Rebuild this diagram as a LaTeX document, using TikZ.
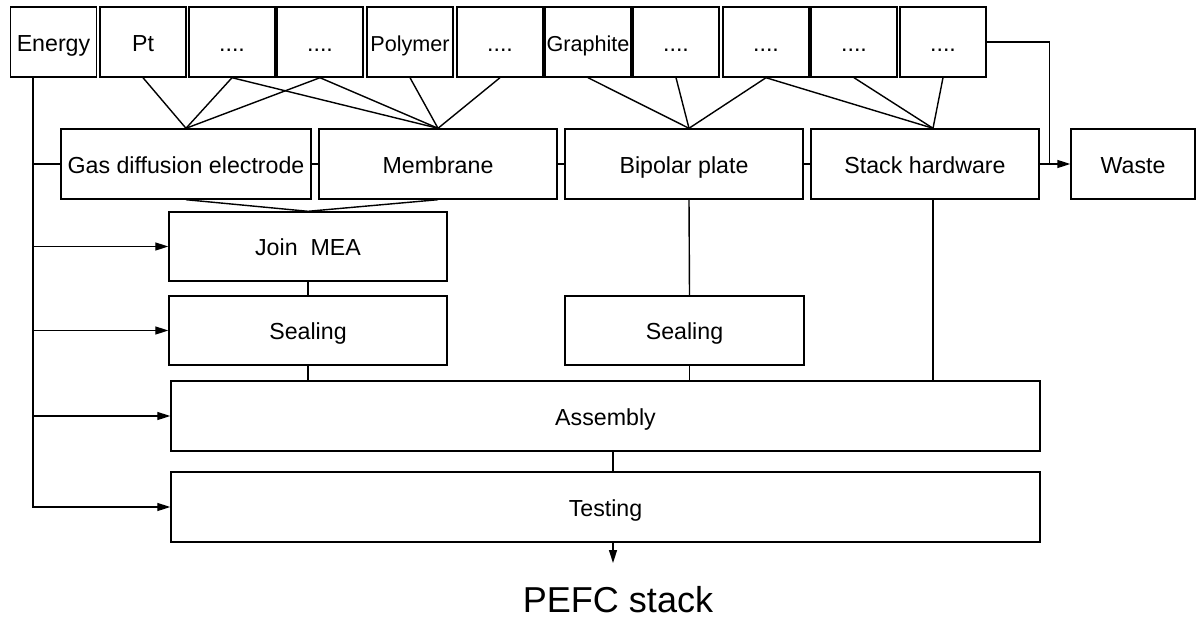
\documentclass[tikz,border=0pt]{standalone}
\usepackage{fontspec}
\setmainfont{Liberation Sans}
\usetikzlibrary{arrows.meta}

\tikzset{
	box/.style = {draw, inner sep = 0pt, minimum height = 1.4cm, text height = 2ex, text depth = 0pt,
			font = \fontsize{13.2}{15}\selectfont},
	item/.style = {box, minimum width = 1.72cm},
	arr/.style = {-{Triangle[length = 2.6mm, width = 1.6mm]}},
}

\begin{document}
\begin{tikzpicture}[x = 0.2mm, y = -0.2mm, line width = 0.8pt]
		\useasboundingbox (0,0) rectangle (1201,623);
		\node (energy) [item] at (53.5,42){Energy};
		\node (pt) [item] at (143,42){Pt};
		\node (dotsa) [item] at (232,42){....};
		\node (dotsb) [item] at (320,42){....};
		\node (polymer) [item, font = \fontsize{12.3}{14}\selectfont] at (410,42){Polymer};
		\node (dotsc) [item] at (500,42){....};
		\node (graphite) [item, font = \fontsize{12.3}{14}\selectfont] at (588,42){Graphite};
		\node (dotsd) [item] at (676,42){....};
		\node (dotse) [item] at (766,42){....};
		\node (dotsf) [item] at (854,42){....};
		\node (dotsg) [item] at (943,42){....};
		%
		\node (gde) [box, minimum width = 5cm] at (186,164){Gas diffusion electrode};
		\node (membrane) [box, minimum width = 4.76cm] at (438,164){Membrane};
		\node (bipolar) [box, minimum width = 4.76cm] at (684,164){Bipolar plate};
		\node (stack) [box, minimum width = 4.56cm] at (925,164){Stack hardware};
		\node (waste) [box, minimum width = 2.48cm] at (1133,164){Waste};
		%
		\node (joinmea) [box, minimum width = 5.56cm, minimum height = 1.38cm] at (308,246.5){Join\ \ MEA};
		\node (seall) [box, minimum width = 5.56cm, minimum height = 1.38cm] at (308,330.5){Sealing};
		\node (sealr) [box, minimum width = 4.78cm, minimum height = 1.38cm] at (684.5,330.5){Sealing};
		\node (assembly) [box, minimum width = 17.38cm] at (605.5,416){Assembly};
		\node (testing) [box, minimum width = 17.38cm] at (605.5,507){Testing};
		\node (pefc) [anchor = base, font = \fontsize{20.5}{24}\selectfont] at (618,612){PEFC stack};
		%
		\coordinate (bus) at ([xshift = -4.1mm]energy.south);
		\coordinate (out) at (613,563);
		\coordinate (bp) at ([xshift = 1mm]bipolar.north);
		\coordinate (sh) at ([xshift = 1.6mm]stack.north);
		%
		\foreach \src in {pt, dotsa, dotsb}{
				\draw (\src.south) -- (gde.north);
			}
		\foreach \src in {dotsa, dotsb, polymer, dotsc}{
				\draw (\src.south) -- (membrane.north);
			}
		\foreach \src in {graphite, dotsd, dotse}{
				\draw (\src.south) -- (bp);
			}
		\foreach \src in {dotse, dotsf, dotsg}{
				\draw (\src.south) -- (sh);
			}
		%
		\draw (gde) -- (membrane);
		\draw (membrane) -- (bipolar);
		\draw (bipolar) -- (stack);
		\draw [arr](stack) -- (waste);
		\draw (dotsg.east) -| ([xshift = 2mm]stack.east);
		%
		\draw (gde.south) -- (joinmea.north) -- (membrane.south);
		\draw (joinmea) -- (seall);
		\draw (seall.south) -- (seall.south |- assembly.north);
		\draw ([xshift = 1mm]bipolar.south) -- ([xshift = 1mm]sealr.north);
		\draw ([xshift = 1mm]sealr.south) -- ([xshift = 1mm]sealr.south |- assembly.north);
		\draw (sh |- stack.south) -- (sh |- assembly.north);
		\draw (out |- assembly.south) -- (out |- testing.north);
		\draw [arr](out |- testing.south) -- (out);
		%
		\draw (bus |- gde) -- (gde);
		\foreach \dst in {joinmea, seall, assembly}{
				\draw [arr](bus |- \dst) -- (\dst);
			}
		\draw [arr](bus) |- (testing);
	\end{tikzpicture}
\end{document}
